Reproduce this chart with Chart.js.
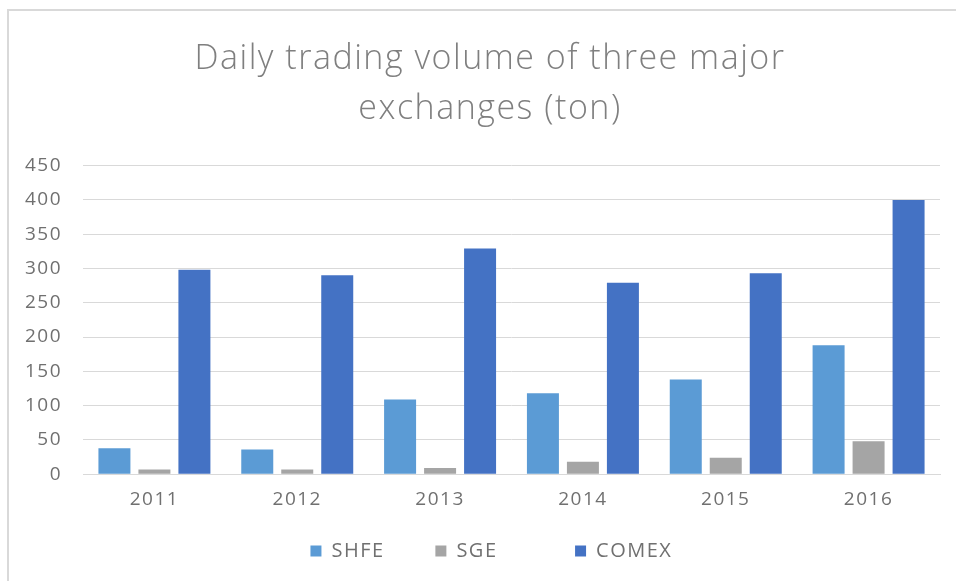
<!DOCTYPE html>
<html>
<head>
<meta charset="utf-8">
<script src="https://cdn.jsdelivr.net/npm/chart.js@4"></script>
<style>
  html, body { margin: 0; padding: 0; background: #fff; overflow: hidden; }
  #frame {
    position: absolute; left: 7px; top: 9px;
    width: 949px; height: 572px;
    border-left: 2px solid #d9d9d9; border-top: 2px solid #d9d9d9;
  }
  #chart { display: block; }
</style>
</head>
<body>
<div id="frame"><canvas id="chart" width="949" height="572"></canvas></div>
<script>
const years = ['2011', '2012', '2013', '2014', '2015', '2016'];
const shfe = [38, 36, 109, 118, 138, 188];
const sge = [7, 7, 9, 18, 24, 48];
const comex = [298, 290, 329, 279, 293, 400];

const gray = '#707070';
const tickFont = { family: 'Open Sans', size: 19 };
// extra room after each legend entry, the original spaces them unevenly
const legendGap = ['    ', '        ', '      '];
// title sits a little right of the canvas centre in the original
const titlePad = '   ';

// the original font is wider than anything installed, so open up the letters a bit
const spacing = {
    id: 'spacing',
    beforeLayout: c => { c.ctx.letterSpacing = '1.5px'; },
    beforeDraw: c => { c.ctx.letterSpacing = '1.5px'; }
};

new Chart(document.getElementById('chart'), {
    type: 'bar',
    data: {
        labels: years,
        datasets: [
            { label: 'SHFE', data: shfe, backgroundColor: '#5b9bd5' },
            { label: 'SGE', data: sge, backgroundColor: '#a5a5a5' },
            { label: 'COMEX', data: comex, backgroundColor: '#4472c4' }
        ]
    },
    plugins: [spacing],
    options: {
        responsive: false,
        animation: false,
        datasets: { bar: { categoryPercentage: 0.84, barPercentage: 0.8 } },
        layout: { padding: { left: 0, right: 18, top: 16, bottom: 12 } },
        plugins: {
            title: {
                display: true,
                text: [titlePad + 'Daily trading volume of three major', titlePad + 'exchanges (ton)'],
                color: '#7f7f7f',
                font: { family: 'Open Sans', size: 34, weight: '300', lineHeight: 1.45 },
                padding: { top: 8, bottom: 32 }
            },
            legend: {
                position: 'bottom',
                fullSize: false,
                labels: {
                    color: gray,
                    boxWidth: 11,
                    boxHeight: 11,
                    padding: 24,
                    font: { family: 'Open Sans', size: 20 },
                    generateLabels: chart => Chart.defaults.plugins.legend.labels.generateLabels(chart)
                        .map((item, i) => ({ ...item, text: item.text + legendGap[i] }))
                }
            },
            tooltip: { enabled: false }
        },
        scales: {
            x: {
                grid: { display: false },
                border: { color: '#d9d9d9', width: 1 },
                ticks: { color: gray, font: tickFont, padding: 6 }
            },
            y: {
                min: 0,
                max: 450,
                ticks: { stepSize: 50, color: gray, font: tickFont, padding: 21 },
                grid: { color: '#d9d9d9', drawTicks: false },
                border: { display: false },
                afterFit: s => { s.width = 74; }
            }
        }
    }
});
</script>
</body>
</html>
